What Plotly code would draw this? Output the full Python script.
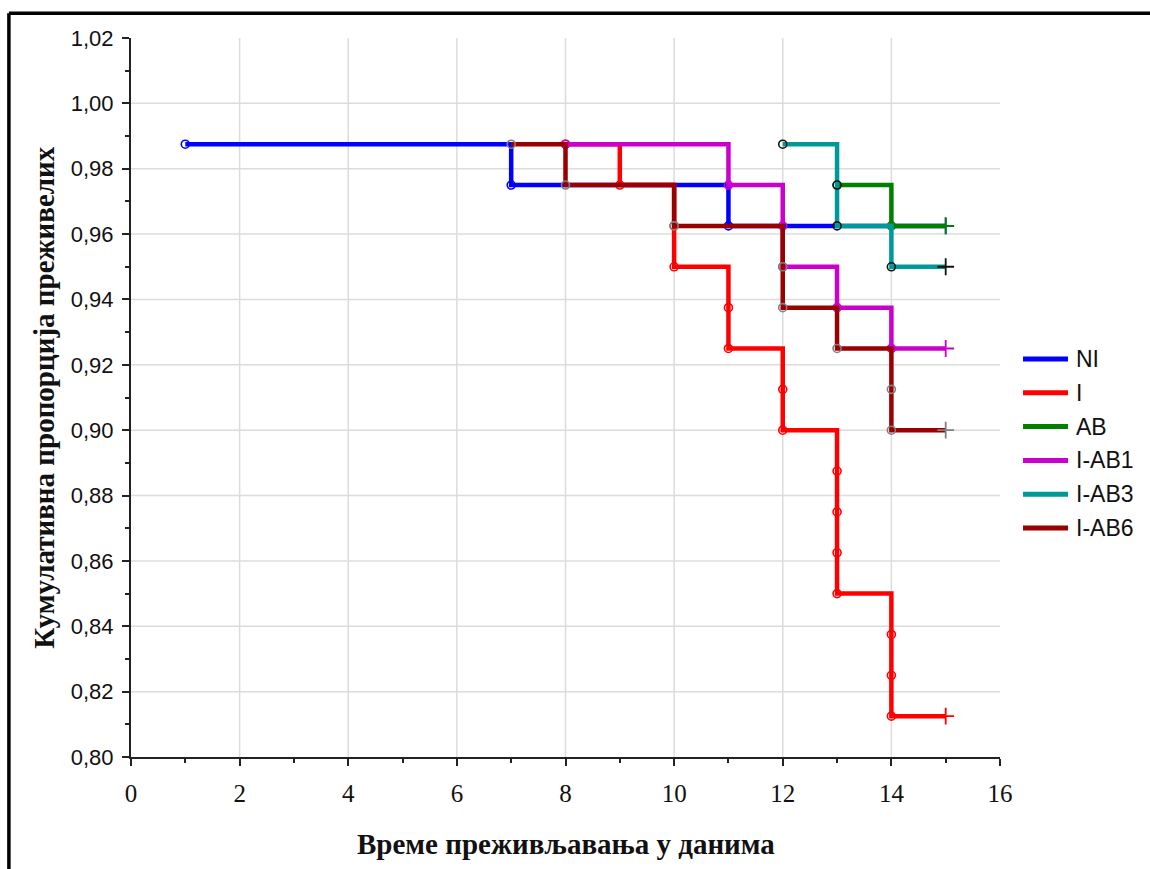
import plotly.graph_objects as go

# Kaplan-Meier survival, 80 animals per group, follow-up to day 15
n_per_group = 80
follow_up_end = 15

groups = ["NI", "I", "AB", "I-AB1", "I-AB3", "I-AB6"]

# days on which deaths occurred and number of deaths on each day
ni_days, ni_deaths = [1, 7, 11], [1, 1, 1]
i_days, i_deaths = [8, 9, 10, 11, 12, 13, 14], [1, 1, 2, 2, 2, 4, 3]
ab_days, ab_deaths = [13, 14], [2, 1]
iab1_days, iab1_deaths = [8, 11, 12, 13, 14], [1, 1, 2, 1, 1]
iab3_days, iab3_deaths = [12, 13, 14], [1, 2, 1]
iab6_days, iab6_deaths = [7, 8, 10, 12, 13, 14], [1, 1, 1, 2, 1, 2]

line_colors = ["#0000ff", "#ff0000", "#008000", "#cc00cc", "#009999", "#990000"]
marker_colors = ["#0000ff", "#ff0000", "#008000", "#cc00cc", "#111111", "#808080"]
end_colors = ["#0000ff", "#ff0000", "#008000", "#cc00cc", "#111111", "#808080"]

x_ticks = [0, 2, 4, 6, 8, 10, 12, 14, 16]
y_ticks = [0.80, 0.82, 0.84, 0.86, 0.88, 0.90, 0.92, 0.94, 0.96, 0.98, 1.00, 1.02]

series = [
    (ni_days, ni_deaths), (i_days, i_deaths), (ab_days, ab_deaths),
    (iab1_days, iab1_deaths), (iab3_days, iab3_deaths), (iab6_days, iab6_deaths),
]


def km_curve(days, deaths):
    """Step points of the survival curve, one per death after the first day."""
    alive = n_per_group
    xs, ys = [], []
    for idx, (day, k) in enumerate(zip(days, deaths)):
        for j in range(k):
            alive -= 1
            if idx == 0 and j < k - 1:
                continue
            xs.append(day)
            ys.append(alive / n_per_group)
    return xs, ys


fig = go.Figure()

for name, (days, deaths), lc, mc, ec in zip(groups, series, line_colors, marker_colors, end_colors):
    ev_x, ev_y = km_curve(days, deaths)
    line_x = ev_x + [follow_up_end]
    line_y = ev_y + [ev_y[-1]]
    fig.add_trace(go.Scatter(
        x=line_x, y=line_y, mode="lines", name=name, showlegend=False,
        line=dict(color=lc, width=4.5, shape="hv"),
        cliponaxis=False,
    ))
    fig.add_trace(go.Scatter(
        x=ev_x, y=ev_y, mode="markers", showlegend=False, hoverinfo="skip",
        marker=dict(symbol="circle-open", size=8, color=mc, line=dict(width=1.6, color=mc)),
        cliponaxis=False,
    ))
    fig.add_trace(go.Scatter(
        x=[follow_up_end], y=[ev_y[-1]], mode="markers", showlegend=False, hoverinfo="skip",
        marker=dict(symbol="cross-thin-open", size=12, color=ec, line=dict(width=1.8, color=ec)),
        cliponaxis=False,
    ))

# light grid, drawn under the curves
shapes = []
for xv in x_ticks[1:-1]:
    shapes.append(dict(type="line", xref="x", yref="y", x0=xv, x1=xv, y0=y_ticks[0], y1=y_ticks[-1],
                       line=dict(color="#dcdcdc", width=1.5), layer="below"))
for yv in y_ticks[1:-1]:
    shapes.append(dict(type="line", xref="x", yref="y", x0=x_ticks[0], x1=x_ticks[-1], y0=yv, y1=yv,
                       line=dict(color="#dcdcdc", width=1.5), layer="below"))

# outer frame (top and left edges)
shapes.append(dict(type="line", xref="paper", yref="paper", x0=-0.1405, x1=1.2, y0=1.0345, y1=1.0345,
                   line=dict(color="black", width=3.5)))
shapes.append(dict(type="line", xref="paper", yref="paper", x0=-0.1405, x1=-0.1405, y0=1.0345, y1=-0.2,
                   line=dict(color="black", width=3.5)))

annotations = [
    dict(text="<b>Време преживљавања у данима</b>", xref="paper", yref="paper",
         x=0.5, y=-0.1205, xanchor="center", yanchor="middle", showarrow=False,
         font=dict(family="Liberation Serif, Times New Roman, serif", size=29, color="#111")),
    dict(text="<b>Кумулативна пропорција преживелих</b>", xref="paper", yref="paper",
         x=-0.101, y=0.5, xanchor="center", yanchor="middle", showarrow=False, textangle=-90,
         font=dict(family="Liberation Serif, Times New Roman, serif", size=29, color="#111")),
]

# legend: a short line swatch and a label per group
leg_x0, leg_x1, leg_text_x = 1.0265, 1.0783, 1.0855
leg_top, leg_step = 0.5535, 0.047
for i, (name, lc) in enumerate(zip(groups, line_colors)):
    yy = leg_top - i * leg_step
    shapes.append(dict(type="line", xref="paper", yref="paper", x0=leg_x0, x1=leg_x1, y0=yy, y1=yy,
                       line=dict(color=lc, width=5)))
    annotations.append(dict(text=name, xref="paper", yref="paper", x=leg_text_x, y=yy,
                            xanchor="left", yanchor="middle", showarrow=False,
                            font=dict(family="Liberation Sans, Arial, sans-serif", size=23, color="#111")))

fig.update_layout(
    width=1150, height=869,
    margin=dict(l=131, r=150, t=38, b=112),
    paper_bgcolor="white", plot_bgcolor="white",
    separators=", ",
    shapes=shapes,
    showlegend=False,
    annotations=annotations,
)

fig.update_xaxes(
    range=[0, 16], tickvals=x_ticks, showgrid=False, zeroline=False,
    showline=True, linecolor="#222", linewidth=2,
    ticks="outside", ticklen=7, tickwidth=2, tickcolor="#222", ticklabelstandoff=6,
    minor=dict(dtick=1, ticks="outside", ticklen=4, tickwidth=2, tickcolor="#222", showgrid=False),
    tickfont=dict(family="Liberation Serif, Times New Roman, serif", size=25, color="#111"),
)
fig.update_yaxes(
    range=[0.80, 1.02], tickvals=y_ticks, tickformat=".2f", showgrid=False, zeroline=False,
    showline=True, linecolor="#222", linewidth=2,
    ticks="outside", ticklen=7, tickwidth=2, tickcolor="#222", ticklabelstandoff=4,
    minor=dict(dtick=0.01, tick0=0.8, ticks="outside", ticklen=4, tickwidth=2, tickcolor="#222", showgrid=False),
    tickfont=dict(family="Liberation Sans, Arial, sans-serif", size=22, color="#111"),
)

fig.write_html("out.html")
